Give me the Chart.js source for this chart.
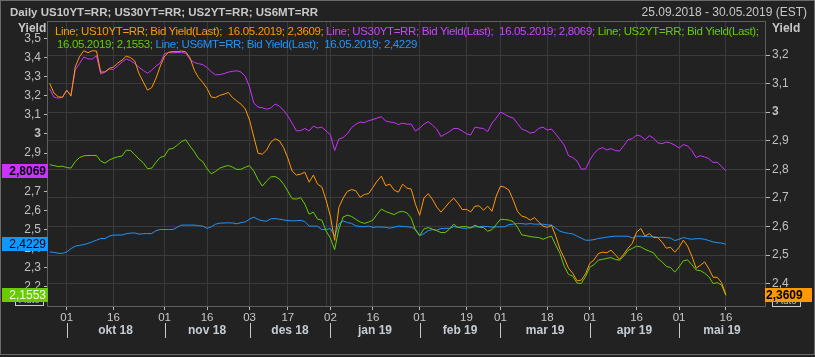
<!DOCTYPE html>
<html><head><meta charset="utf-8">
<script src="https://cdn.jsdelivr.net/npm/chart.js@4.4.1/dist/chart.umd.min.js"></script>
<style>
html,body{margin:0;padding:0;background:#222;}
#wrap{position:relative;width:815px;height:357px;background:#222;overflow:hidden;font-family:"Liberation Sans",Arial,sans-serif;}
canvas{position:absolute;left:0;top:0;}
.t{position:absolute;white-space:pre;font-size:12px;line-height:14px;color:#c8c8c8;}
.b{font-weight:bold;}
.lg{font-size:11.5px;letter-spacing:-0.35px;}
</style></head><body>
<div id="wrap">
<canvas id="c" width="815" height="357"></canvas>
<div class="t b" style="left:10px;top:5px;font-size:11.5px;">Daily US10YT=RR; US30YT=RR; US2YT=RR; US6MT=RR</div>
<div class="t" style="right:8px;top:5px;">25.09.2018 - 30.05.2019 (EST)</div>
<div class="t b" style="left:18px;top:21px;">Yield</div>
<div class="t b" style="left:772px;top:21px;">Yield</div>
<div class="t lg" id="leg1" style="left:55px;top:24px;"></div>
<div class="t lg" id="leg2" style="left:57px;top:37px;"></div>
</div>
<script>
// ---- categories: trading days per month ----
const tradingDays = {
  '2018-09': [25,26,27,28],
  '2018-10': [1,2,3,4,5,8,9,10,11,12,15,16,17,18,19,22,23,24,25,26,29,30,31],
  '2018-11': [1,2,5,6,7,8,9,13,14,15,16,19,20,21,23,26,27,28,29,30],
  '2018-12': [3,4,6,7,10,11,12,13,14,17,18,19,20,21,24,26,27,28,31],
  '2019-01': [2,3,4,7,8,9,10,11,14,15,16,17,18,22,23,24,25,28,29,30,31],
  '2019-02': [1,4,5,6,7,8,11,12,13,14,15,19,20,21,22,25,26,27,28],
  '2019-03': [1,4,5,6,7,8,11,12,13,14,15,18,19,20,21,22,25,26,27,28,29],
  '2019-04': [1,2,3,4,5,8,9,10,11,12,15,16,17,18,22,23,24,25,26,29,30],
  '2019-05': [1,2,3,6,7,8,9,10,13,14,15,16,17,20,21,22,23,24,28,29,30]
};
// ---- tick labels ----
const tickDates = ['2018-10-01','2018-10-16','2018-11-01','2018-11-16','2018-12-03','2018-12-17',
  '2019-01-02','2019-01-16','2019-02-01','2019-02-19','2019-03-01','2019-03-18',
  '2019-04-01','2019-04-16','2019-05-01','2019-05-16'];
const monthKeys = ['2018-10','2018-11','2018-12','2019-01','2019-02','2019-03','2019-04','2019-05'];
const monthLabels = ['okt 18','nov 18','des 18','jan 19','feb 19','mar 19','apr 19','mai 19'];
const leftTicks = [2.2,2.3,2.4,2.5,2.6,2.7,2.8,2.9,3.0,3.1,3.2,3.3,3.4,3.5];
const rightTicks = [2.4,2.5,2.6,2.7,2.8,2.9,3.0,3.1,3.2];
const yearSepDate = '2018-12-31';

// ---- series values (one per trading day, 25.09.2018 - 16.05.2019) ----
const us10y = [3.101,3.067,3.054,3.052,3.077,3.056,3.158,3.194,3.215,3.208,
 3.215,3.214,3.140,3.141,3.153,3.158,3.172,3.182,3.196,3.191,
 3.179,3.135,3.106,3.077,3.086,3.119,3.161,3.196,3.210,3.212,
 3.212,3.214,3.211,3.190,3.147,3.121,3.104,3.083,3.053,3.051,
 3.059,3.063,3.069,3.051,3.039,3.028,3.011,2.972,2.913,2.856,
 2.853,2.867,2.895,2.907,2.900,2.876,2.839,2.794,2.780,2.783,
 2.790,2.755,2.780,2.748,2.738,2.692,2.636,2.551,2.667,2.699,
 2.723,2.729,2.725,2.702,2.712,2.715,2.737,2.759,2.776,2.743,
 2.748,2.727,2.720,2.748,2.734,2.731,2.678,2.639,2.699,2.715,
 2.695,2.668,2.650,2.667,2.685,2.699,2.681,2.659,2.660,2.651,
 2.671,2.672,2.657,2.671,2.653,2.706,2.741,2.737,2.727,2.692,
 2.653,2.636,2.632,2.622,2.631,2.615,2.601,2.597,2.604,2.566,
 2.520,2.489,2.454,2.436,2.410,2.412,2.434,2.471,2.483,2.505,
 2.510,2.508,2.517,2.501,2.485,2.503,2.524,2.541,2.580,2.593,
 2.566,2.575,2.561,2.561,2.545,2.524,2.527,2.510,2.527,2.552,
 2.531,2.496,2.454,2.464,2.476,2.452,2.422,2.422,2.403,2.3609];
const us30y = [3.236,3.192,3.187,3.192,3.227,3.204,3.334,3.367,3.402,3.392,
 3.391,3.409,3.313,3.323,3.339,3.337,3.356,3.375,3.392,3.383,
 3.368,3.348,3.332,3.317,3.333,3.355,3.370,3.420,3.425,3.424,
 3.425,3.426,3.422,3.389,3.373,3.367,3.362,3.347,3.324,3.309,
 3.310,3.315,3.323,3.327,3.330,3.323,3.301,3.245,3.161,3.140,
 3.137,3.129,3.135,3.156,3.145,3.124,3.093,3.056,3.016,3.017,
 3.028,3.015,3.041,3.031,3.035,3.015,2.996,2.913,2.973,2.981,
 3.001,3.033,3.051,3.062,3.059,3.069,3.075,3.083,3.090,3.067,
 3.062,3.059,3.049,3.056,3.051,3.051,3.015,3.030,3.051,3.064,
 3.046,3.025,2.986,2.999,3.012,3.028,3.028,3.015,3.001,2.994,
 3.035,3.031,3.028,3.012,3.056,3.083,3.114,3.103,3.090,3.083,
 3.054,3.025,3.017,3.004,3.009,3.029,3.035,3.020,3.025,2.999,
 2.970,2.941,2.886,2.876,2.858,2.816,2.816,2.863,2.897,2.920,
 2.928,2.916,2.923,2.913,2.910,2.939,2.970,2.975,2.994,2.988,
 2.970,2.991,2.978,2.953,2.949,2.957,2.952,2.941,2.926,2.944,
 2.937,2.913,2.876,2.886,2.879,2.871,2.850,2.852,2.829,2.8069];
const us2y = [2.839,2.834,2.829,2.831,2.824,2.821,2.855,2.876,2.885,2.887,
 2.887,2.887,2.858,2.847,2.863,2.873,2.880,2.884,2.915,2.913,
 2.892,2.868,2.849,2.818,2.821,2.852,2.877,2.884,2.920,2.924,
 2.941,2.960,2.969,2.936,2.907,2.871,2.855,2.817,2.791,2.804,
 2.821,2.829,2.835,2.826,2.814,2.815,2.826,2.834,2.805,2.761,
 2.727,2.753,2.775,2.777,2.764,2.737,2.700,2.661,2.659,2.667,
 2.633,2.580,2.591,2.554,2.549,2.492,2.455,2.395,2.502,2.565,
 2.575,2.568,2.553,2.539,2.532,2.539,2.549,2.580,2.607,2.594,
 2.586,2.578,2.591,2.595,2.587,2.560,2.497,2.468,2.503,2.510,
 2.502,2.494,2.484,2.484,2.502,2.528,2.510,2.515,2.515,2.507,
 2.523,2.512,2.510,2.491,2.499,2.526,2.554,2.552,2.549,2.541,
 2.512,2.472,2.468,2.463,2.460,2.458,2.449,2.458,2.465,2.418,
 2.374,2.308,2.265,2.256,2.220,2.218,2.254,2.303,2.316,2.340,
 2.344,2.349,2.353,2.343,2.340,2.361,2.390,2.401,2.413,2.409,
 2.396,2.387,2.378,2.348,2.331,2.307,2.301,2.277,2.305,2.336,
 2.341,2.316,2.288,2.285,2.272,2.253,2.217,2.222,2.209,2.1553];
const us6m = [2.383,2.380,2.376,2.375,2.383,2.400,2.413,2.417,2.421,2.427,
 2.436,2.444,2.453,2.453,2.465,2.471,2.471,2.471,2.478,2.481,
 2.482,2.476,2.478,2.479,2.479,2.494,2.500,2.500,2.500,2.500,
 2.512,2.523,2.523,2.523,2.523,2.520,2.518,2.506,2.514,2.528,
 2.533,2.534,2.535,2.534,2.530,2.536,2.540,2.554,2.565,2.552,
 2.546,2.543,2.556,2.557,2.554,2.550,2.547,2.545,2.546,2.548,
 2.541,2.518,2.518,2.517,2.499,2.500,2.505,2.465,2.529,2.545,
 2.536,2.532,2.519,2.516,2.514,2.518,2.511,2.513,2.513,2.511,
 2.507,2.512,2.518,2.516,2.514,2.512,2.502,2.468,2.478,2.494,
 2.499,2.497,2.505,2.506,2.506,2.515,2.512,2.507,2.506,2.512,
 2.514,2.514,2.517,2.515,2.512,2.514,2.514,2.514,2.526,2.528,
 2.531,2.531,2.528,2.531,2.528,2.528,2.528,2.524,2.523,2.507,
 2.491,2.484,2.480,2.477,2.465,2.455,2.444,2.444,2.447,2.453,
 2.456,2.460,2.463,2.465,2.465,2.465,2.465,2.455,2.465,2.465,
 2.463,2.462,2.462,2.459,2.459,2.458,2.455,2.442,2.449,2.458,
 2.453,2.449,2.452,2.452,2.449,2.442,2.435,2.431,2.429,2.4229];

// ---- build date list ----
const dates = [];
for (const m of Object.keys(tradingDays)) {
  for (const d of tradingDays[m]) dates.push(m + '-' + String(d).padStart(2,'0'));
}
const idxOf = d => dates.indexOf(d);
const tickIdx = tickDates.map(idxOf);
const tickText = {};
tickDates.forEach((d,i)=>{ tickText[tickIdx[i]] = d.slice(8,10); });
const monthStart = monthKeys.map(k => dates.findIndex(d => d.startsWith(k)));
const lastIdx = us10y.length - 1;
const lastDate = dates[lastIdx].split('-').reverse().join('.');

const FAM = '"Liberation Sans", Arial, sans-serif';
const C10 = '#ff9900', C30 = '#cc33ff', C2 = '#66cc00', C6 = '#1e96ff';
const fmt = v => v.toFixed(4).replace('.', ',');

// legend rows
const seg = (c, t) => '<span style="color:' + c + '">' + t + '</span>';
document.getElementById('leg1').innerHTML =
  seg(C10, 'Line; US10YT=RR; Bid Yield(Last);  ' + lastDate + '; ' + fmt(us10y[lastIdx]) + '; ') +
  seg('#cc44ff', 'Line; US30YT=RR; Bid Yield(Last);  ' + lastDate + '; ' + fmt(us30y[lastIdx]) + '; ') +
  seg(C2, 'Line; US2YT=RR; Bid Yield(Last);');
document.getElementById('leg2').innerHTML =
  seg(C2, lastDate + '; ' + fmt(us2y[lastIdx]) + '; ') +
  seg(C6, 'Line; US6MT=RR; Bid Yield(Last);  ' + lastDate + '; ' + fmt(us6m[lastIdx]));

const pts = arr => arr.map((v,i)=>({x:i, y:v}));
const tickFmt = v => Math.abs(v - Math.round(v)) < 1e-9 ? String(Math.round(v)) : v.toFixed(1).replace('.', ',');
const tickFont = ctx => ({ family: FAM, size: 12, weight: (ctx.tick && Math.abs(ctx.tick.value - Math.round(ctx.tick.value)) < 1e-9) ? 'bold' : 'normal' });

const decor = {
  id: 'decor',
  beforeDatasetsDraw(chart) {
    const {ctx, chartArea: a, scales: {x}} = chart;
    ctx.save();
    ctx.strokeStyle = '#3a3a3a'; ctx.lineWidth = 1;
    const xs = Math.round(x.getPixelForValue(idxOf(yearSepDate))) + 0.5;
    ctx.beginPath(); ctx.moveTo(xs, a.top); ctx.lineTo(xs, a.bottom); ctx.stroke();
    ctx.restore();
  },
  afterDraw(chart) {
    const {ctx, chartArea: a, scales: {x, yL, yR}} = chart;
    ctx.save();
    // plot frame
    ctx.strokeStyle = '#5e5e5e'; ctx.lineWidth = 1;
    ctx.strokeRect(a.left - 0.5, a.top - 0.5, a.right - a.left + 1, a.bottom - a.top + 1);
    // outer frame
    ctx.strokeStyle = '#6a6a6a';
    ctx.strokeRect(0.5, 0.5, 814, 354);
    // month labels and separators
    ctx.font = 'bold 12px ' + FAM;
    ctx.fillStyle = '#c6ccd4'; ctx.textAlign = 'center'; ctx.textBaseline = 'middle';
    ctx.strokeStyle = '#c8c8c8';
    monthLabels.forEach((lab, i) => {
      const x0 = x.getPixelForValue(monthStart[i]);
      const x1 = i + 1 < monthStart.length ? x.getPixelForValue(monthStart[i+1]) : a.right;
      ctx.fillText(lab, (x0 + x1) / 2, 331);
      const xs = Math.round(x0) + 0.5;
      ctx.beginPath(); ctx.moveTo(xs, 323); ctx.lineTo(xs, 338); ctx.stroke();
    });
    // "Auto" boxes
    ctx.font = '10px ' + FAM; ctx.fillStyle = '#bbbbbb'; ctx.strokeStyle = '#cccccc';
    ctx.strokeRect(15.5, 293.5, 28, 12); ctx.fillText('Auto', 29.5, 300);
    ctx.strokeRect(772.5, 294.5, 28, 12); ctx.fillText('Auto', 786.5, 301);
    // last value boxes
    const box = (x0, w, yc, bg, fg, txt, bold, align) => {
      const top = Math.round(yc) - 7;
      ctx.fillStyle = bg; ctx.fillRect(x0, top, w, 14);
      ctx.fillStyle = fg; ctx.font = (bold ? 'bold ' : '') + '12px ' + FAM;
      ctx.textAlign = align; ctx.textBaseline = 'middle';
      ctx.fillText(txt, align === 'right' ? x0 + w - 2 : x0 + 1, top + 7.5);
    };
    box(2, 46, yL.getPixelForValue(us30y[lastIdx]), C30, '#000000', fmt(us30y[lastIdx]), true, 'right');
    box(2, 46, yL.getPixelForValue(us6m[lastIdx]), '#0f98ff', '#00060f', fmt(us6m[lastIdx]), false, 'right');
    box(2, 46, yL.getPixelForValue(us2y[lastIdx]), C2, '#f4fff0', fmt(us2y[lastIdx]), false, 'right');
    box(765, 47, yR.getPixelForValue(us10y[lastIdx]), C10, '#000000', fmt(us10y[lastIdx]), true, 'left');
    ctx.restore();
  }
};

const ds = (label, arr, color, axis) => ({
  label, data: pts(arr), yAxisID: axis, borderColor: color, backgroundColor: color,
  borderWidth: 1, pointRadius: 0, tension: 0, fill: false
});

new Chart(document.getElementById('c'), {
  type: 'line',
  data: {
    datasets: [
      ds('US10YT=RR', us10y, C10, 'yR'),
      ds('US30YT=RR', us30y, C30, 'yL'),
      ds('US2YT=RR', us2y, C2, 'yL'),
      ds('US6MT=RR', us6m, C6, 'yL')
    ]
  },
  options: {
    responsive: false, animation: false, devicePixelRatio: 1,
    layout: { padding: { top: 22, left: 0, right: 0, bottom: 0 } },
    plugins: { legend: { display: false }, tooltip: { enabled: false } },
    scales: {
      x: {
        type: 'linear', min: -0.4, max: dates.length - 1 + 0.2,
        afterBuildTicks: s => { s.ticks = tickIdx.map(v => ({ value: v })); },
        afterFit: s => { s.height = 51; },
        ticks: { autoSkip: false, maxRotation: 0, color: '#c8c8c8', font: { family: FAM, size: 11.5 }, padding: 1,
                 callback: v => tickText[v] || '' },
        grid: { color: '#3a3a3a', tickColor: '#b8b8b8', tickLength: 4 },
        border: { display: false }
      },
      yL: {
        type: 'linear', position: 'left', min: 2.1, max: 3.585,
        afterBuildTicks: s => { s.ticks = leftTicks.map(v => ({ value: v })); },
        afterFit: s => { s.width = 48; },
        ticks: { color: '#c0c0c0', font: tickFont, padding: 3, callback: v => tickFmt(v) },
        grid: { drawOnChartArea: false, tickColor: '#b8b8b8', tickLength: 4 },
        border: { display: false }
      },
      yR: {
        type: 'linear', position: 'right', min: 2.3216, max: 3.3156,
        afterBuildTicks: s => { s.ticks = rightTicks.map(v => ({ value: v })); },
        afterFit: s => { s.width = 50; },
        ticks: { color: '#c0c0c0', font: tickFont, padding: 2, callback: v => tickFmt(v) },
        grid: { color: '#3a3a3a', tickColor: '#b8b8b8', tickLength: 5 },
        border: { display: false }
      }
    }
  },
  plugins: [decor]
});
</script>
</body></html>
